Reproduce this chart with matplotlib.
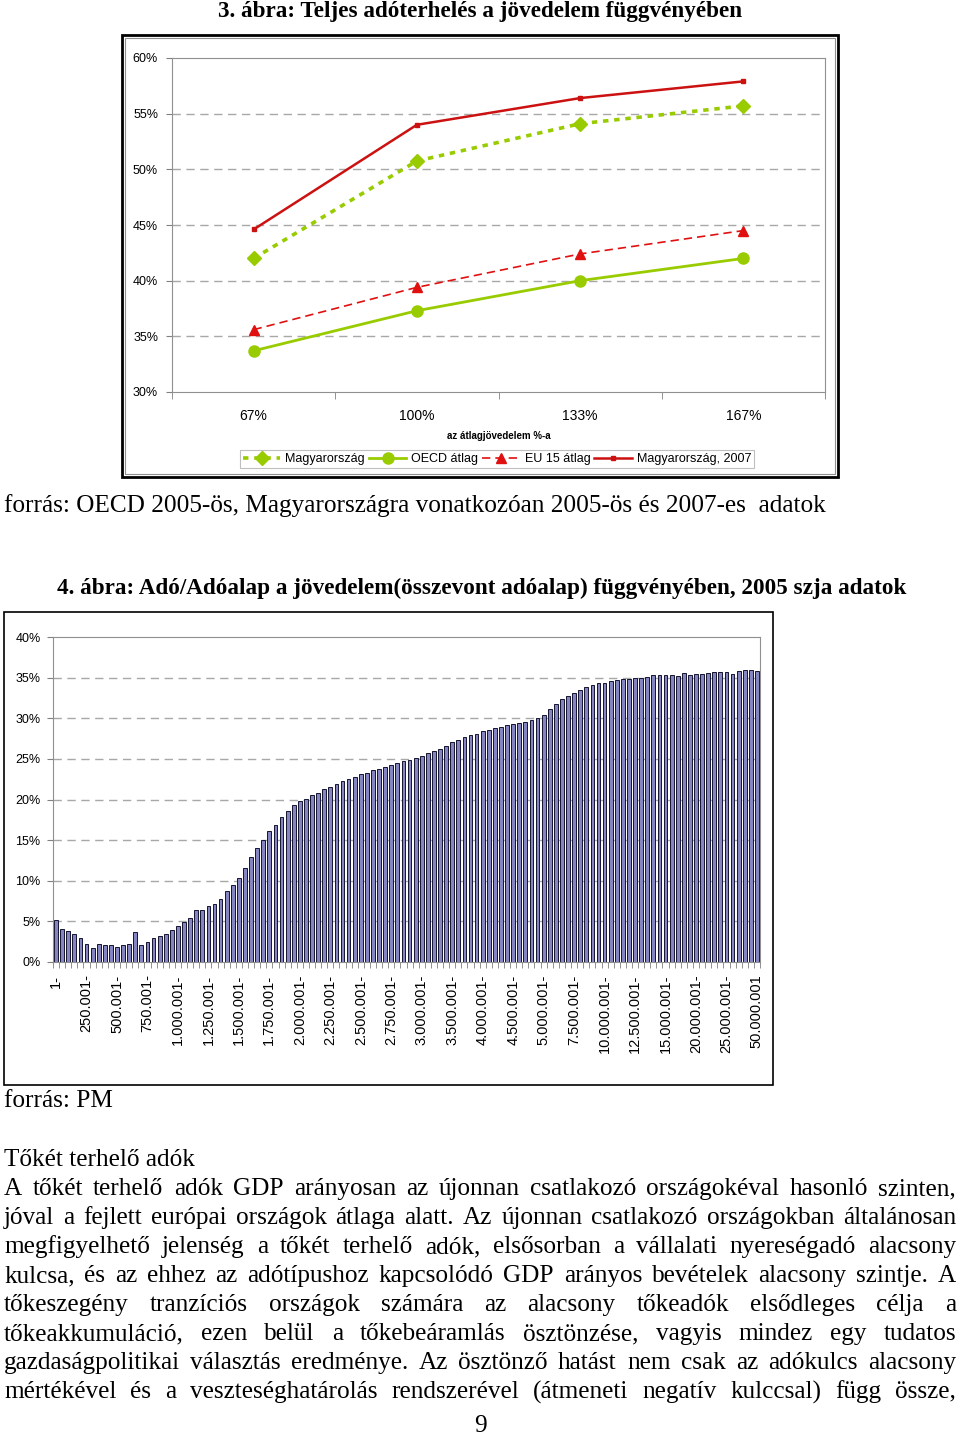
import matplotlib
matplotlib.use('Agg')
import matplotlib.pyplot as plt
from matplotlib.patches import Rectangle

W, H = 960, 1436

# --- chart 1 data ---
income_cats = ['67%', '100%', '133%', '167%']
hu_2005 = [42.0, 50.75, 54.1, 55.7]
oecd_avg = [33.7, 37.3, 40.0, 42.0]
eu15_avg = [35.6, 39.4, 42.4, 44.5]
hu_2007 = [44.6, 54.0, 56.4, 57.9]

# --- chart 2 data (szja 2005) ---
tax_rate = [5.2, 4.1, 3.8, 3.4, 2.9, 2.25, 1.75, 2.25, 2.05, 2.1, 1.85, 2.1, 2.25, 3.7,
            2.15, 2.45, 3.0, 3.25, 3.5, 4.0, 4.4, 4.95, 5.4, 6.4, 6.45, 6.9, 7.2, 7.8,
            8.75, 9.5, 10.4, 11.6, 12.9, 14.0, 15.0, 16.1, 16.9, 17.8, 18.6, 19.3, 19.8,
            20.1, 20.5, 20.85, 21.25, 21.5, 21.9, 22.3, 22.5, 22.8, 23.1, 23.3, 23.6,
            23.75, 24.0, 24.3, 24.5,
            24.7, 24.9, 25.1, 25.4, 25.75, 26.0, 26.25, 26.6, 27.1, 27.35, 27.7, 27.9,
            28.1, 28.4, 28.55, 28.75, 28.95, 29.15, 29.25, 29.45, 29.6, 29.8, 30.0, 30.4,
            31.1, 31.8, 32.4, 32.75, 33.05, 33.45, 33.8, 34.1, 34.3, 34.4, 34.55, 34.65,
            34.85, 34.85, 34.9, 34.9, 35.1, 35.3, 35.35, 35.35, 35.35, 35.2, 35.55, 35.35,
            35.4, 35.45, 35.6, 35.65, 35.65, 35.7, 35.4, 35.8, 35.95, 35.95, 35.8]
band_labels = ['1-', '250.001-', '500.001-', '750.001-', '1.000.001-', '1.250.001-',
               '1.500.001-', '1.750.001-', '2.000.001-', '2.250.001-', '2.500.001-',
               '2.750.001-', '3.000.001-', '3.500.001-', '4.000.001-', '4.500.001-',
               '5.000.001-', '7.500.001-', '10.000.001-', '12.500.001-', '15.000.001-',
               '20.000.001-', '25.000.001-', '50.000.001']

body_lines = [
    'A tőkét terhelő adók GDP arányosan az újonnan csatlakozó országokéval hasonló szinten,',
    'jóval a fejlett európai országok átlaga alatt. Az újonnan csatlakozó országokban általánosan',
    'megfigyelhető jelenség a tőkét terhelő adók, elsősorban a vállalati nyereségadó alacsony',
    'kulcsa, és az ehhez az adótípushoz kapcsolódó GDP arányos bevételek alacsony szintje. A',
    'tőkeszegény tranzíciós országok számára az alacsony tőkeadók elsődleges célja a',
    'tőkeakkumuláció, ezen belül a tőkebeáramlás ösztönzése, vagyis mindez egy tudatos',
    'gazdaságpolitikai választás eredménye. Az ösztönző hatást nem csak az adókulcs alacsony',
    'mértékével és a veszteséghatárolás rendszerével (átmeneti negatív kulccsal) függ össze,',
]

SERIF = 'Liberation Serif'
SANS = 'Liberation Sans'
BODY = 18.2
TITLE = 16.7
plt.rcParams['font.family'] = SANS

fig = plt.figure(figsize=(W / 100, H / 100), dpi=100)
fig.patch.set_facecolor('white')


def fx(px):
    return px / W


def fy(py):
    return 1 - py / H


def frame(x0, y0, x1, y1, lw=1.2, color='black'):
    fig.patches.append(Rectangle((fx(x0), fy(y1)), fx(x1) - fx(x0), fy(y0) - fy(y1),
                                 transform=fig.transFigure, fill=False, lw=lw,
                                 edgecolor=color, zorder=0))


GRID = dict(color='#a8a8a8', linestyle=(0, (6, 4)), lw=1)

# ---------------- chart 1 ----------------
fig.text(fx(480), fy(11), '3. ábra: Teljes adóterhelés a jövedelem függvényében',
         family=SERIF, weight='bold', fontsize=TITLE, ha='center', va='center')
frame(122, 35, 838, 477, lw=2)
frame(125, 38, 835, 474, lw=0.8, color='#909090')

ax1 = fig.add_axes([fx(172), fy(392), fx(825) - fx(172), (392 - 58) / H])
x = range(len(income_cats))
ax1.plot(x, hu_2005, color='#99cc00', lw=2.6, linestyle=(0, (1.5, 1.6)),
         marker='D', ms=7, label='Magyarország')
ax1.plot(x, oecd_avg, color='#99cc00', lw=2, marker='o', ms=8, label='OECD átlag')
ax1.plot(x, eu15_avg, color='#e01010', lw=1.2, linestyle=(0, (5, 3)),
         marker='^', ms=7, label='EU 15 átlag')
ax1.plot(x, hu_2007, color='#cc1111', lw=1.8, marker='s', ms=3, label='Magyarország, 2007')
ax1.set_xlim(-0.5, 3.5)
ax1.set_ylim(30, 60)
ax1.set_yticks(range(30, 61, 5))
ax1.set_yticklabels([f'{v}%' for v in range(30, 61, 5)], fontsize=9)
ax1.set_xticks(list(x))
ax1.set_xticklabels(income_cats, fontsize=10)
ax1.set_xticks([-0.5, 0.5, 1.5, 2.5, 3.5], minor=True)
ax1.tick_params(axis='x', which='major', length=0, pad=12)
ax1.tick_params(axis='x', which='minor', length=5, color='#808080')
ax1.tick_params(axis='y', length=4, color='#808080', pad=6)
for y in range(35, 60, 5):
    ax1.axhline(y, zorder=0, **GRID)
for s in ax1.spines.values():
    s.set_color('#909090')
ax1.set_xlabel('az átlagjövedelem %-a', fontsize=7, weight='bold', labelpad=6)
leg = ax1.legend(loc='center', bbox_to_anchor=(fx(497), fy(459)),
                 bbox_transform=fig.transFigure, ncol=4, fontsize=9, frameon=True,
                 fancybox=False, edgecolor='#b0b0b0', handlelength=3.0,
                 columnspacing=0.3, handletextpad=0.4, borderpad=0.25)
leg.get_frame().set_linewidth(0.8)

fig.text(fx(4), fy(506),
         'forrás: OECD 2005-ös, Magyarországra vonatkozóan 2005-ös és 2007-es  adatok',
         family=SERIF, fontsize=BODY, ha='left', va='center')

# ---------------- chart 2 ----------------
fig.text(fx(57), fy(588),
         '4. ábra: Adó/Adóalap a jövedelem(összevont adóalap) függvényében, 2005 szja adatok',
         family=SERIF, weight='bold', fontsize=TITLE, ha='left', va='center')
frame(4, 612, 773, 1085, lw=1.2)

ax2 = fig.add_axes([fx(53), fy(962), fx(760) - fx(53), (962 - 637) / H])
n = len(tax_rate)
ax2.bar(range(n), tax_rate, width=0.62, color='#8585c2', edgecolor='#141430',
        lw=0.7, zorder=2)
ax2.set_xlim(-0.5, n - 0.5)
ax2.set_ylim(0, 40)
ax2.set_yticks(range(0, 41, 5))
ax2.set_yticklabels([f'{v}%' for v in range(0, 41, 5)], fontsize=9)
ax2.set_xticks(list(range(0, n, 5)))
ax2.set_xticklabels(band_labels, rotation=90, fontsize=10.5)
ax2.set_xticks([i - 0.5 for i in range(n + 1)], minor=True)
ax2.tick_params(axis='x', which='major', length=0, pad=9)
ax2.tick_params(axis='x', which='minor', length=4, color='#808080')
ax2.tick_params(axis='y', length=4, color='#808080', pad=5)
for y in range(5, 40, 5):
    ax2.axhline(y, zorder=0, **GRID)
for s in ax2.spines.values():
    s.set_color('#909090')

fig.text(fx(4), fy(1101), 'forrás: PM', family=SERIF, fontsize=BODY, ha='left', va='center')

# ---------------- body text ----------------
fig.text(fx(4), fy(1160), 'Tőkét terhelő adók', family=SERIF, fontsize=BODY,
         ha='left', va='center')

renderer = fig.canvas.get_renderer()
for k, line in enumerate(body_lines):
    ypos = fy(1189 + 29 * k)
    words = line.split()
    texts = [fig.text(0, ypos, w, family=SERIF, fontsize=BODY, ha='left', va='center')
             for w in words]
    widths = [t.get_window_extent(renderer).width for t in texts]
    gap = (956 - 4 - sum(widths)) / (len(words) - 1)
    xp = 4
    for t, w in zip(texts, widths):
        t.set_x(fx(xp))
        xp += w + gap

fig.text(fx(480), fy(1426), '9', family=SERIF, fontsize=BODY, ha='center', va='center')

fig.savefig('out.png', dpi=100)
